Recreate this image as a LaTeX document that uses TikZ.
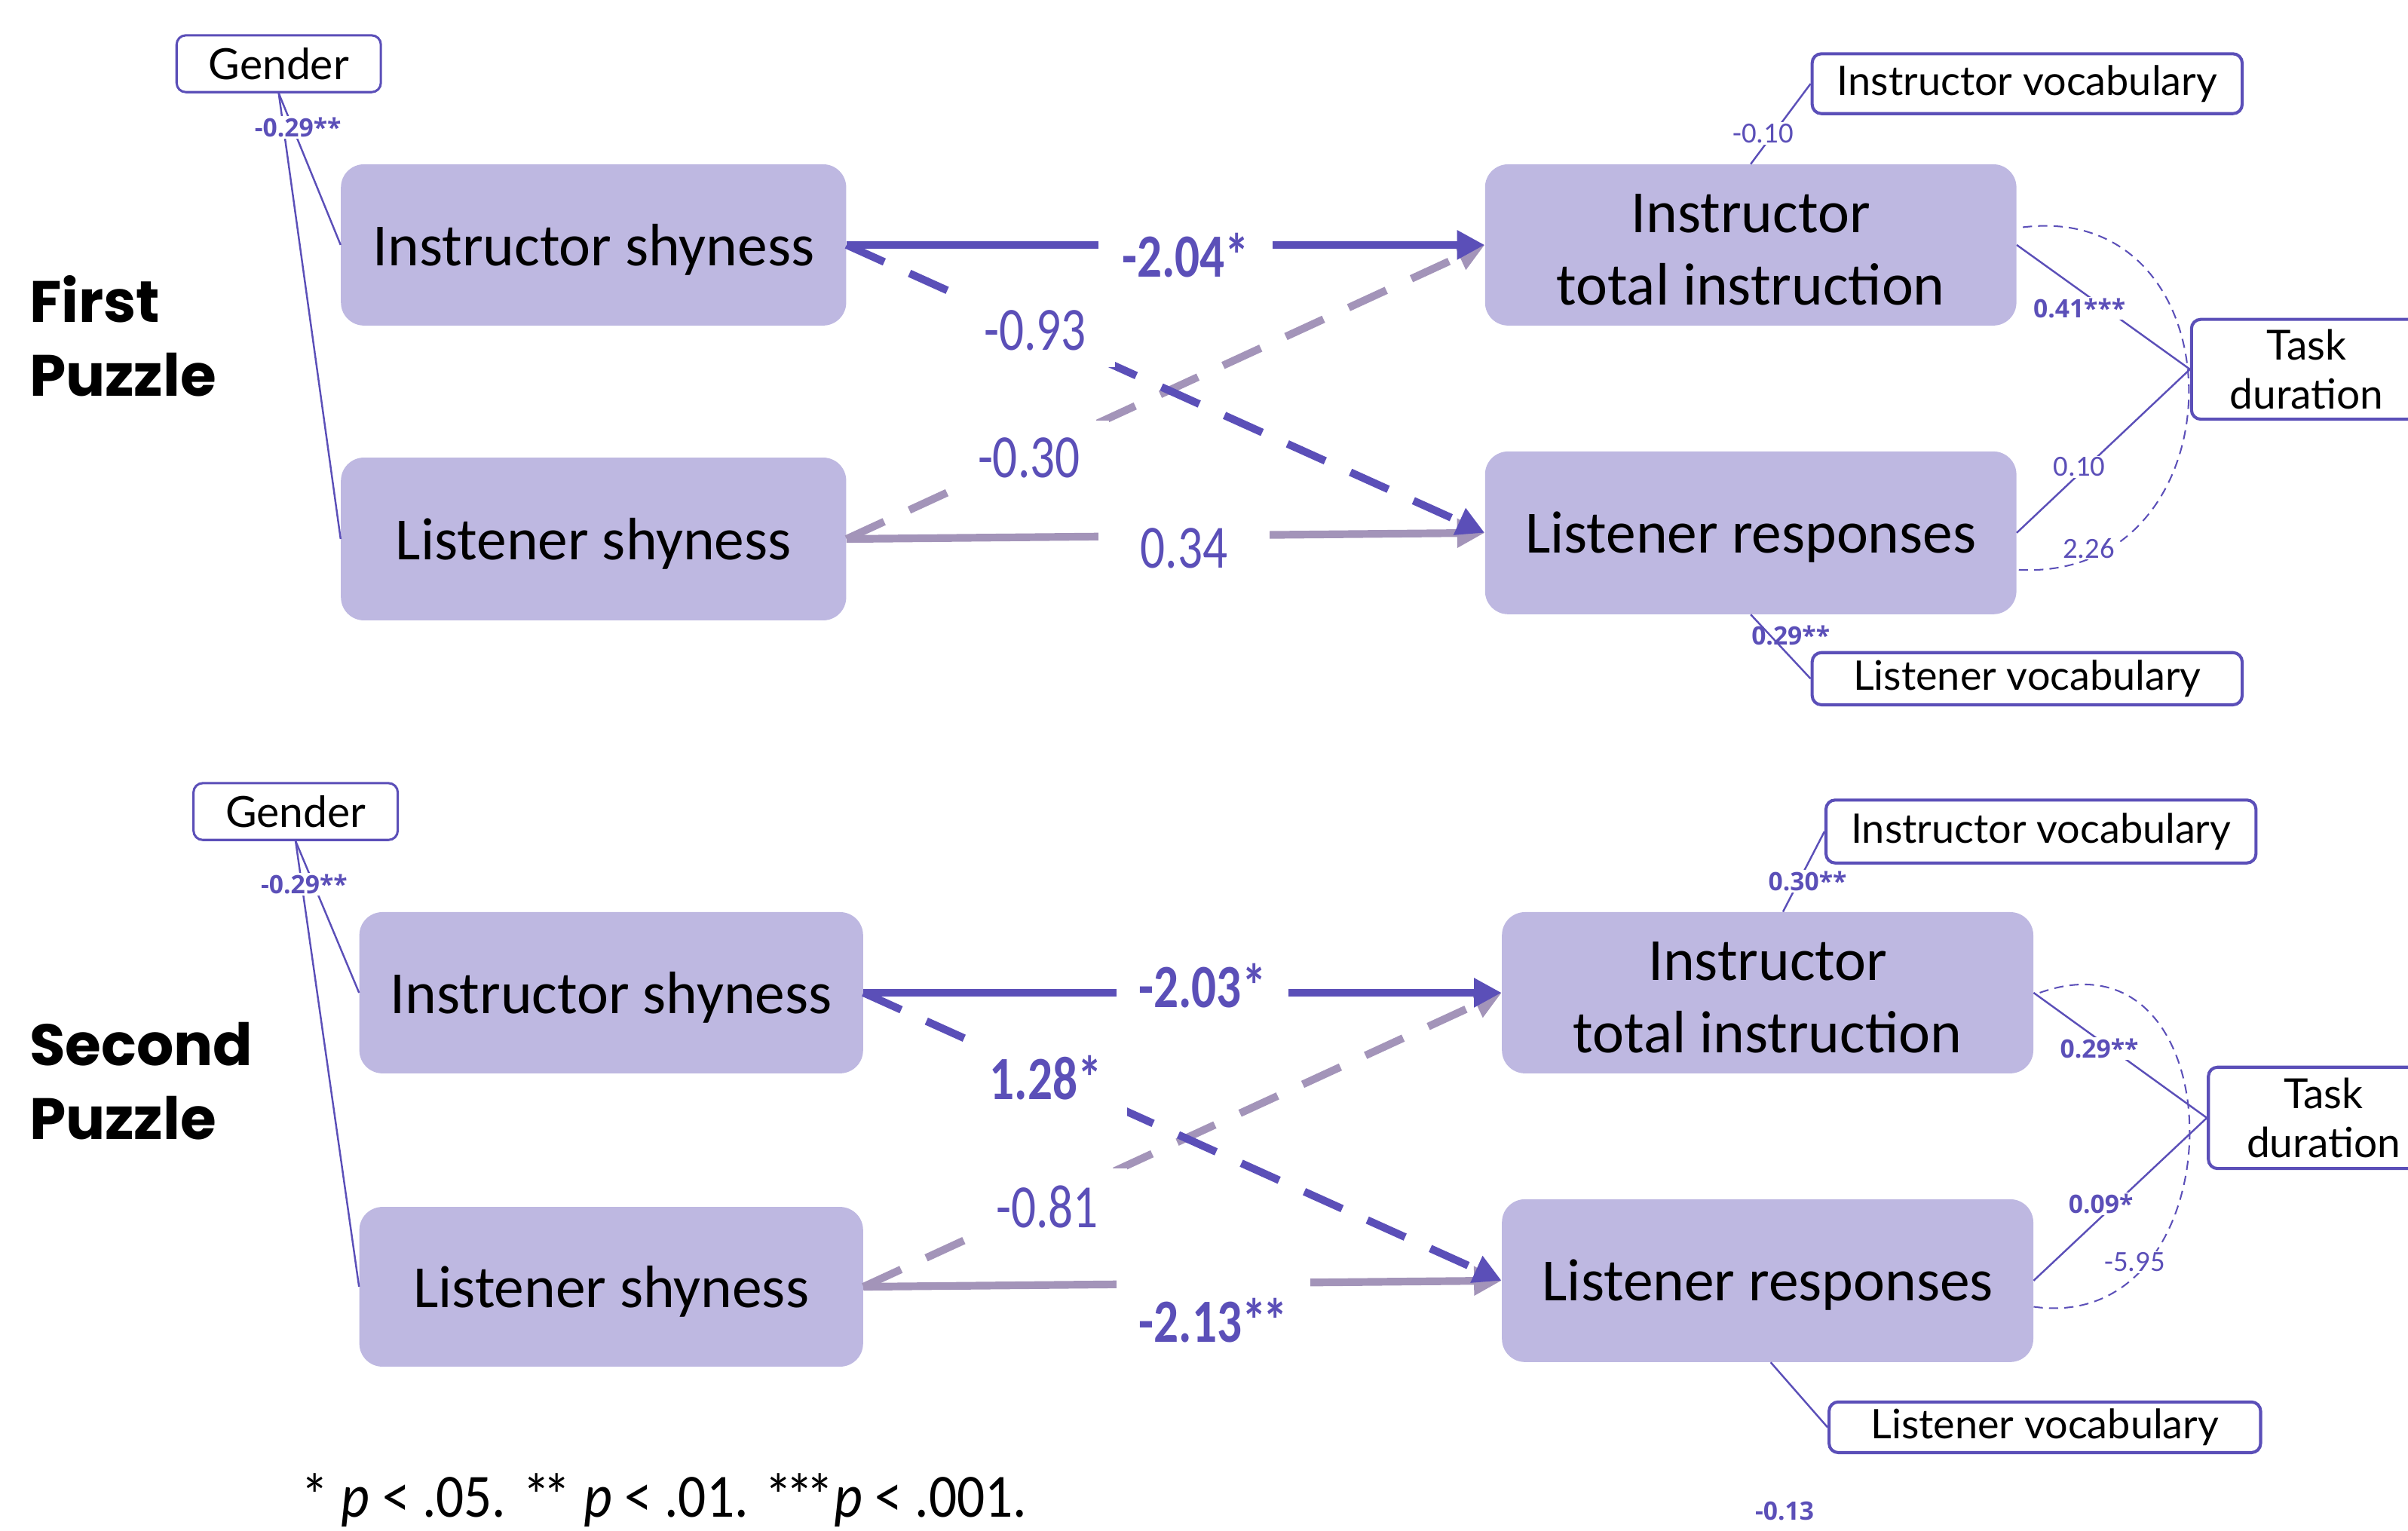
\documentclass[tikz,border=0pt]{standalone}
\usepackage{graphicx}
\usepackage{fontspec}
\setmainfont{Carlito}
\newfontfamily\geo{Poppins}
\newfontfamily\lato{Lato}
\newfontfamily\osans{Open Sans}
\usetikzlibrary{arrows.meta,calc}
\definecolor{dk}{RGB}{91,79,184}
\definecolor{gy}{RGB}{163,148,185}
\definecolor{bx}{RGB}{190,184,225}
\newcommand{\nar}[1]{\scalebox{0.8}[1]{#1}}
\newcommand{\dn}[1]{\raisebox{-3pt}[\height][\depth]{#1}}
\newcommand{\ak}{\kern-5pt}
\begin{document}
\begin{tikzpicture}[x=1pt,y=-1pt,
  fbox/.style={fill=bx, rounded corners=15pt, inner sep=0pt, align=center,
    font=\fontsize{39}{47}\selectfont},
  obox/.style={draw=dk, line width=2pt, rounded corners=6pt, fill=white, inner sep=0pt,
    align=center, font=\lato\fontsize{26.5}{32}\selectfont},
  gbox/.style={obox, line width=1.5pt, font=\lato\fontsize{28}{32}\selectfont},
  tbox/.style={obox, font=\lato\fontsize{27}{32}\selectfont},
  thin/.style={draw=dk, line width=1.2pt},
  arc/.style={draw=dk, line width=1pt, dash pattern=on 6pt off 4pt},
  darr/.style={draw=dk, line width=5pt, -{Triangle[length=18pt,width=18pt]}},
  garr/.style={draw=gy, line width=5pt, -{Triangle[length=18pt,width=18pt]}},
  dsh/.style={dash pattern=on 27pt off 18pt},
  big/.style={text=dk, fill=white, inner xsep=6pt, inner ysep=2pt, font=\fontsize{40}{40}\selectfont},
  sm/.style={text=dk, fill=white, inner sep=1pt, font=\fontsize{19}{19}\selectfont},
  smb/.style={text=dk, fill=white, inner sep=1pt, font=\osans\bfseries\fontsize{16.5}{17}\selectfont},
  title/.style={align=left, inner sep=0pt, font=\geo\bfseries\fontsize{38}{48}\selectfont}
]
\useasboundingbox (0,0) rectangle (1568,996.6);
\clip (0,0) rectangle (1568,996.6);

% ================= FIRST PUZZLE =================
\node[title, anchor=west] (t1) at (19,219) {First\\Puzzle};

\node[fbox, minimum width=329pt, minimum height=105pt] (is1) at (386.5,159.5) {\dn{Instructor shyness}};
\node[fbox, minimum width=329pt, minimum height=106pt] (ls1) at (386.5,351) {\dn{Listener shyness}};
\node[fbox, minimum width=346pt, minimum height=105pt] (it1) at (1140,159.5) {\dn{Instructor}\\\dn{total instruction}};
\node[fbox, minimum width=346pt, minimum height=106pt] (lr1) at (1140,347) {\dn{Listener responses}};
\node[obox, minimum width=280pt, minimum height=39pt] (iv1) at (1320,54.5) {Instructor vocabulary};
\node[obox, minimum width=280pt, minimum height=34pt] (lv1) at (1320,442) {Listener vocabulary};
\node[tbox, minimum width=150pt, minimum height=65pt, anchor=west] (td1) at (1426,240.5) {Task\\duration};
\node[gbox, minimum width=133pt, minimum height=37pt] (g1) at (181.5,41.5) {Gender};

% gender paths
\draw[thin] (g1.south) -- (is1.west);
\draw[thin] (g1.south) -- (ls1.west);
\node[smb] (g1l) at (194,83) {-0.29**};

% main paths
\draw[garr] (ls1.east) -- (lr1.west);
\draw[garr, dsh] (ls1.east) -- (it1.west);
\draw[darr, dsh] (is1.east) -- (lr1.west);
\draw[darr] (is1.east) -- (it1.west);
\node[big, minimum width=113pt] (p1a) at (772,166) {\bfseries\nar{-2.04*}};
\node[big, minimum width=104pt, minimum height=48pt] (p1b) at (674,215) {\nar{-0.93}};
\node[big, minimum width=104pt, minimum height=48pt] (p1c) at (670,298) {\nar{-0.30}};
\node[big, minimum width=111pt] (p1d) at (771,357) {\nar{0.34}};

% covariates
\draw[thin] (iv1.west) -- (it1.north);
\node[sm] (v1a) at (1148,87) {-0.10};
\node[smb, fill=none] (v1b) at (1166,414) {0.29**};
\draw[thin] (lr1.south) -- (lv1.west);

\draw[thin] (it1.east) -- (td1.west);
\draw[thin] (lr1.east) -- (td1.west);
\draw[arc] ($(it1.east)+(4,-11.5)$) .. controls (1462,130) and (1462,380) .. ($(lr1.east)+(0,24)$);
\node[smb] (d1a) at (1354,201) {0.41***};
\node[sm] (d1b) at (1354,304) {0.10};
\node[sm] (d1c) at (1360,357) {2.26};

% ================= SECOND PUZZLE =================
\node[title, anchor=west] (t2) at (19,704) {Second\\Puzzle};

\node[fbox, minimum width=328pt, minimum height=105pt] (is2) at (398,646.5) {\dn{Instructor shyness}};
\node[fbox, minimum width=328pt, minimum height=104pt] (ls2) at (398,838) {\dn{Listener shyness}};
\node[fbox, minimum width=346pt, minimum height=105pt] (it2) at (1151,646.5) {\dn{Instructor}\\\dn{total instruction}};
\node[fbox, minimum width=346pt, minimum height=106pt] (lr2) at (1151,834) {\dn{Listener responses}};
\node[obox, minimum width=280pt, minimum height=41pt] (iv2) at (1329,541.5) {Instructor vocabulary};
\node[obox, minimum width=281pt, minimum height=33pt] (lv2) at (1331.5,929.5) {Listener vocabulary};
\node[tbox, minimum width=150pt, minimum height=66pt, anchor=west] (td2) at (1437,728) {Task\\duration};
\node[gbox, minimum width=133pt, minimum height=37pt] (g2) at (192.5,528.5) {Gender};

\draw[thin] (g2.south) -- (is2.west);
\draw[thin] (g2.south) -- (ls2.west);
\node[smb] (g2l) at (198,576) {-0.29**};

\draw[garr] (ls2.east) -- (lr2.west);
\draw[garr, dsh] (ls2.east) -- (it2.west);
\draw[darr, dsh] (is2.east) -- (lr2.west);
\draw[darr] (is2.east) -- (it2.west);
\node[big, minimum width=112pt] (p2a) at (783,642) {\bfseries\nar{-2.03*}};
\node[big, minimum width=106pt, minimum height=50pt] (p2b) at (681,702) {\bfseries\nar{1.28*}};
\node[big, minimum width=104pt, minimum height=50pt] (p2c) at (682,786) {\nar{-0.81}};
\node[big, minimum width=126pt, anchor=base, text height=45pt, text depth=8pt] (p2d) at (790,874) {\bfseries\nar{-2.13*\kern-3pt*}};

\draw[thin] (iv2.west) -- ($(it2.north)+(10,0)$);
\node[smb] (v2a) at (1177,574) {0.30**};
\draw[thin] ($(lr2.south)+(2,0)$) -- (lv2.west);
\node[smb] (v2b) at (1162,984) {-0.13};

\draw[thin] (it2.east) -- (td2.west);
\draw[thin] (lr2.east) -- (td2.west);
\draw[arc] ($(it2.east)+(4,0)$) .. controls (1459,600) and (1459,870) .. ($(lr2.east)+(0,17)$);
\node[smb] (d2a) at (1367,683) {0.29**};
\node[smb] (d2b) at (1368,784) {0.09*};
\node[sm] (d2c) at (1390,822) {-5.95};

% footnote
\node[anchor=west, inner sep=0pt, font=\fontsize{40}{40}\selectfont] (fn) at (196,977)
  {\scalebox{0.9}[1]{* \textit{p} < .05. *\ak* \textit{p} < .01. *\ak*\ak*\textit{p} < .001.}};
\end{tikzpicture}
\end{document}
